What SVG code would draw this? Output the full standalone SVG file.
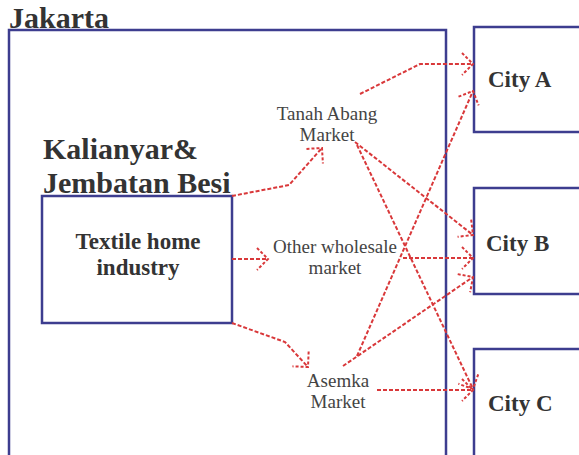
<svg xmlns="http://www.w3.org/2000/svg" width="579" height="455" viewBox="0 0 579 455">
<style>
.box{fill:none;stroke:#3d3d8f;stroke-width:2.5}
.title{font-family:"Liberation Serif",serif;font-weight:bold;fill:#333}
.lbl{font-family:"Liberation Serif",serif;font-size:19px;fill:#444;text-anchor:middle}
.city{font-family:"Liberation Serif",serif;font-weight:bold;font-size:23px;fill:#333}
.arr{fill:none;stroke:#d9383a;stroke-width:2;stroke-dasharray:4 2;marker-end:url(#ah)}
</style>
<defs>
<marker id="ah" markerUnits="userSpaceOnUse" viewBox="-14 -14 16 28" refX="0" refY="0" markerWidth="16" markerHeight="28" orient="auto" overflow="visible">
<path d="M-11,-11 L0,0 L-11,11" fill="none" stroke="#d9383a" stroke-width="2" stroke-dasharray="3 2"/>
</marker>
</defs>
<rect width="579" height="455" fill="#fff"/>
<g id="jakarta">
<rect class="box" x="9" y="30" width="437" height="440"/>
<text class="title" x="9" y="28" font-size="30">Jakarta</text>
</g>
<g id="kalianyar">
<text class="title" x="43" y="159" font-size="30">Kalianyar&amp;</text>
<text class="title" x="43" y="193" font-size="30">Jembatan Besi</text>
</g>
<g id="textile">
<rect class="box" x="42" y="196" width="190" height="127"/>
<text class="title" x="138" y="249" font-size="23" text-anchor="middle">Textile home</text>
<text class="title" x="138" y="275" font-size="23" text-anchor="middle">industry</text>
</g>
<g id="tanah-abang">
<text class="lbl" x="327" y="120">Tanah Abang</text>
<text class="lbl" x="327" y="141">Market</text>
</g>
<g id="other-wholesale">
<text class="lbl" x="335" y="253">Other wholesale</text>
<text class="lbl" x="335" y="274">market</text>
</g>
<g id="asemka">
<text class="lbl" x="338" y="387">Asemka</text>
<text class="lbl" x="338" y="408">Market</text>
</g>
<g id="city-a">
<rect class="box" x="474" y="27" width="200" height="105"/>
<text class="city" x="488" y="87">City A</text>
</g>
<g id="city-b">
<rect class="box" x="474" y="188" width="200" height="106"/>
<text class="city" x="486" y="251">City B</text>
</g>
<g id="city-c">
<rect class="box" x="474" y="349" width="200" height="120"/>
<text class="city" x="488" y="411">City C</text>
</g>
<g id="connectors">
<polyline class="arr" points="232,196 289,185 322,148"/>
<polyline class="arr" points="232,259 268,259"/>
<polyline class="arr" points="232,323 285,342 308,367"/>
<polyline class="arr" points="360,94 420,64 473,64"/>
<polyline class="arr" points="355,142 473,235"/>
<polyline class="arr" points="357,145 473,389"/>
<polyline class="arr" points="403,258 473,258"/>
<polyline class="arr" points="357,356 473,91"/>
<polyline class="arr" points="343,366 473,277"/>
<polyline class="arr" points="377,390 473,390"/>
</g>
</svg>
